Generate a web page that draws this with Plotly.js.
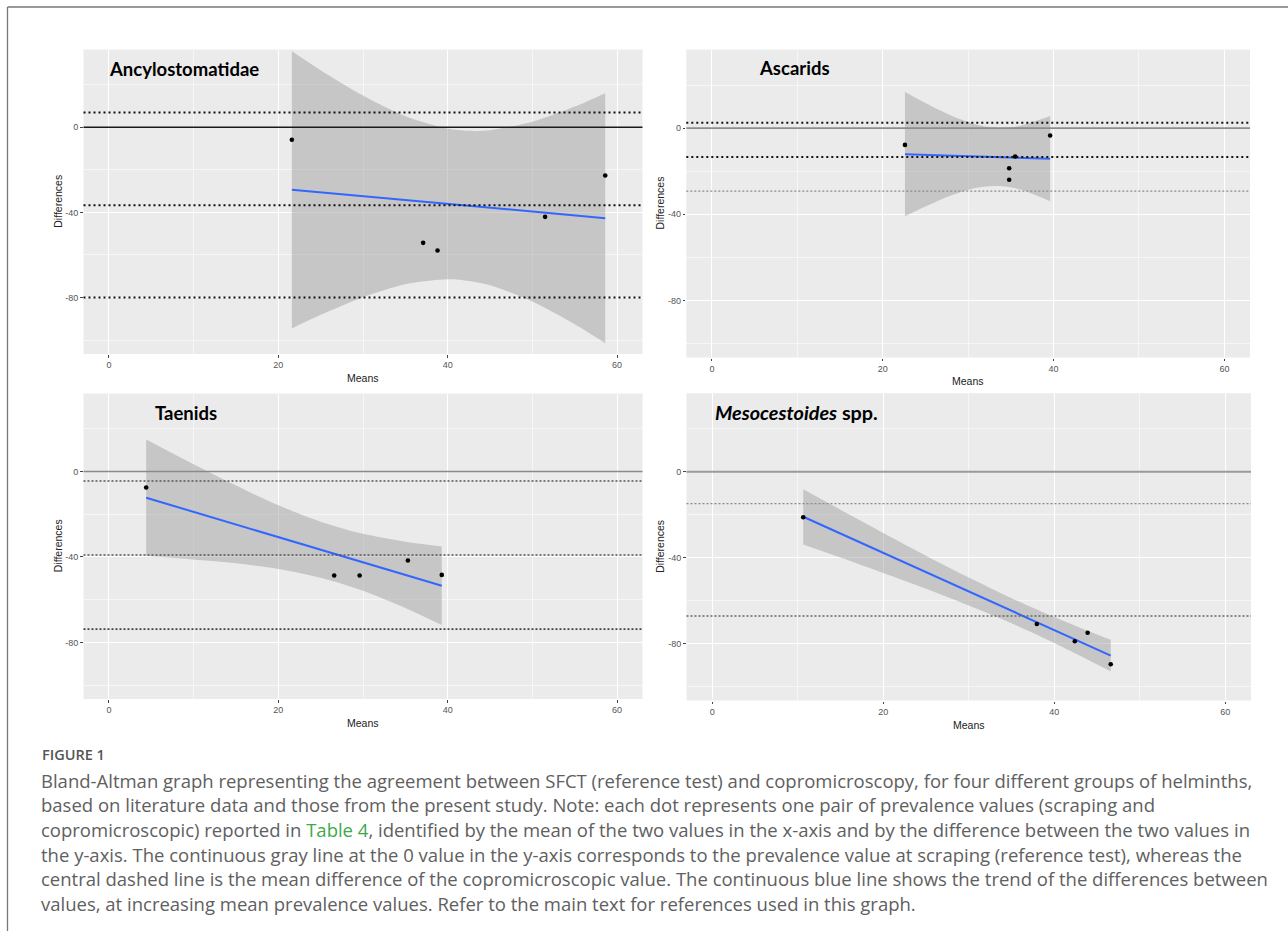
<!DOCTYPE html>
<html>
<head>
<meta charset="utf-8">
<script src="https://cdn.plot.ly/plotly-3.0.1.min.js"></script>
<style>
html,body{margin:0;padding:0;background:#fff;}
#chart{width:1288px;height:931px;}
</style>
</head>
<body>
<div id="chart"></div>
<script>
// ---------- data ----------
var panelTitles = ['Ancylostomatidae', 'Ascarids', 'Taenids', '<i>Mesocestoides</i> spp.'];
var xAxisTitle = 'Means';
var yAxisTitle = 'Differences';

var xTickVals = [0, 20, 40, 60];
var xTickText = ['0', '20', '40', '60'];
var xMinorVals = [10, 30, 50];
var yTickVals = [0, -40, -80];
var yTickText = ['0', '-40', '-80'];
var yMinorVals = [20, -20, -60, -100];

// Ancylostomatidae
var ancMeans = [21.6, 37.1, 38.8, 51.5, 58.6];
var ancDiffs = [-5.9, -54.3, -57.9, -42.1, -22.7];
var ancRef = 0;
var ancLimits = [6.9, -36.6, -80.0];
var ancTrendX = [21.6, 58.6];
var ancTrendY = [-29.4, -42.7];
var ancBandX = [21.6, 25, 30, 35, 40, 42.5, 45, 50, 55, 58.6];
var ancBandLo = [-94.5, -88.1, -79.8, -73.7, -71.4, -72.2, -74.2, -81.8, -92.5, -101.4];
var ancBandHi = [35.7, 26.8, 14.9, 5.2, -0.6, -1.7, -1.4, 2.6, 9.7, 16.0];

// Ascarids
var ascMeans = [22.6, 34.8, 34.8, 35.5, 39.6];
var ascDiffs = [-7.8, -18.6, -24.0, -13.2, -3.4];
var ascRef = 0;
var ascLimits = [2.5, -13.4, -29.3];
var ascTrendX = [22.6, 39.6];
var ascTrendY = [-12.1, -14.2];
var ascBandX = [22.6, 25, 28, 31, 33.5, 36, 39.6];
var ascBandLo = [-40.9, -36.4, -31.3, -27.7, -26.9, -28.4, -33.9];
var ascBandHi = [16.8, 11.7, 5.9, 1.6, 0.1, 1.0, 5.6];

// Taenids
var taeMeans = [4.4, 26.6, 29.6, 35.3, 39.3];
var taeDiffs = [-7.5, -48.7, -48.7, -41.7, -48.4];
var taeRef = 0;
var taeLimits = [-4.4, -39.1, -73.8];
var taeTrendX = [4.4, 39.3];
var taeTrendY = [-12.3, -53.5];
var taeBandX = [4.4, 10, 15, 20, 25, 30, 35, 39.3];
var taeBandLo = [-39.6, -41.2, -43.0, -45.6, -49.7, -55.8, -63.9, -71.9];
var taeBandHi = [15.0, 3.4, -6.6, -15.8, -23.5, -29.2, -32.9, -35.1];

// Mesocestoides spp.
var mesMeans = [10.65, 37.96, 42.4, 43.9, 46.6];
var mesDiffs = [-21.2, -70.9, -78.9, -75.0, -89.6];
var mesRef = 0;
var mesLimits = [-14.9, -67.2];
var mesTrendX = [10.65, 46.6];
var mesTrendY = [-21.0, -85.6];
var mesBandX = [10.65, 15, 20, 25, 30, 35, 40, 43, 46.6];
var mesBandLo = [-33.9, -40.0, -47.2, -54.5, -62.3, -70.6, -79.8, -85.7, -93.0];
var mesBandHi = [-8.2, -17.7, -28.5, -39.1, -49.3, -58.9, -67.7, -72.6, -78.2];

var figureLabel = 'FIGURE 1';
var captionLines = [
  'Bland-Altman graph representing the agreement between SFCT (reference test) and copromicroscopy, for four different groups of helminths,',
  'based on literature data and those from the present study. Note: each dot represents one pair of prevalence values (scraping and',
  'copromicroscopic) reported in <span style="color:#3BAA4A">Table 4</span>, identified by the mean of the two values in the x-axis and by the difference between the two values in',
  'the y-axis. The continuous gray line at the 0 value in the y-axis corresponds to the prevalence value at scraping (reference test), whereas the',
  'central dashed line is the mean difference of the copromicroscopic value. The continuous blue line shows the trend of the differences between',
  'values, at increasing mean prevalence values. Refer to the main text for references used in this graph.'
];

// ---------- layout geometry (pixels) ----------
var W = 1288, H = 931;
function px(x){ return x / W; }
function py(y){ return 1 - y / H; }

var panels = [
  {means: ancMeans, diffs: ancDiffs, ref: ancRef, limits: ancLimits, tx: ancTrendX, ty: ancTrendY,
   bx: ancBandX, blo: ancBandLo, bhi: ancBandHi,
   box: [83.5, 642.5, 49.5, 354], titleX: 106.5, titleY: 69, titleSize: 18.5, meansY: 378, diffX: 58,
   refStyle: {color: '#1a1a1a', width: 1.4},
   limStyles: [{color:'#111', width:2, dash:'2px,3px'}, {color:'#111', width:2, dash:'2px,3px'}, {color:'#111', width:2, dash:'2px,3px'}]},
  {means: ascMeans, diffs: ascDiffs, ref: ascRef, limits: ascLimits, tx: ascTrendX, ty: ascTrendY,
   bx: ascBandX, blo: ascBandLo, bhi: ascBandHi,
   box: [686.3, 1250, 49.5, 357.5], titleX: 756.5, titleY: 68, titleSize: 18.5, meansY: 381, diffX: 660,
   refStyle: {color: '#8c8c8c', width: 1.6},
   limStyles: [{color:'#111', width:2, dash:'2px,3px'}, {color:'#111', width:2, dash:'2px,3px'}, {color:'#8a8a8a', width:1.3, dash:'2px,2px'}]},
  {means: taeMeans, diffs: taeDiffs, ref: taeRef, limits: taeLimits, tx: taeTrendX, ty: taeTrendY,
   bx: taeBandX, blo: taeBandLo, bhi: taeBandHi,
   box: [83.5, 642.5, 393.5, 699], titleX: 152.5, titleY: 413, titleSize: 18.5, meansY: 723, diffX: 58,
   refStyle: {color: '#8a8a8a', width: 1.5},
   limStyles: [{color:'#555', width:1.5, dash:'2px,2px'}, {color:'#555', width:1.5, dash:'2px,2px'}, {color:'#444', width:1.6, dash:'2px,2px'}]},
  {means: mesMeans, diffs: mesDiffs, ref: mesRef, limits: mesLimits, tx: mesTrendX, ty: mesTrendY,
   bx: mesBandX, blo: mesBandLo, bhi: mesBandHi,
   box: [686.5, 1251, 393.2, 700.5], titleX: 713, titleY: 412, titleSize: 19.8, meansY: 725, diffX: 660,
   refStyle: {color: '#9a9a9a', width: 2},
   limStyles: [{color:'#8a8a8a', width:1.3, dash:'2px,2px'}, {color:'#666', width:1.4, dash:'2px,2px'}]}
];

var data = [];
var layout = {
  width: W, height: H,
  margin: {l:0, r:0, t:0, b:0},
  paper_bgcolor: '#ffffff',
  plot_bgcolor: '#EBEBEB',
  showlegend: false,
  hovermode: false,
  annotations: [],
  shapes: []
};

panels.forEach(function(p, i){
  var n = i === 0 ? '' : String(i + 1);
  var xa = 'x' + n, ya = 'y' + n;
  var tickFont = {family: 'Liberation Sans, Arial, sans-serif', size: 9, color: '#555'};
  layout['xaxis' + n] = {
    domain: [px(p.box[0]), px(p.box[1])], anchor: ya,
    range: [-3, 63], tickmode: 'array', tickvals: xTickVals, ticktext: xTickText,
    showgrid: true, gridcolor: '#ffffff', gridwidth: 1.1, zeroline: false, showline: false,
    ticks: 'outside', ticklen: 2.5, tickwidth: 1, tickcolor: '#444', tickfont: tickFont,
    minor: {tickmode: 'array', tickvals: xMinorVals, showgrid: true, gridcolor: '#ffffff', gridwidth: 0.55, ticks: ''},
    fixedrange: true
  };
  layout['yaxis' + n] = {
    domain: [py(p.box[3]), py(p.box[2])], anchor: xa,
    range: [-106.5, 36.5], tickmode: 'array', tickvals: yTickVals, ticktext: yTickText,
    showgrid: true, gridcolor: '#ffffff', gridwidth: 1.1, zeroline: false, showline: false,
    ticks: 'outside', ticklen: 2.5, tickwidth: 1, tickcolor: '#444', tickfont: tickFont,
    minor: {tickmode: 'array', tickvals: yMinorVals, showgrid: true, gridcolor: '#ffffff', gridwidth: 0.55, ticks: ''},
    fixedrange: true
  };

  // confidence band
  data.push({x: p.bx, y: p.blo, xaxis: xa, yaxis: ya, mode: 'lines',
             line: {width: 0, shape: 'spline', smoothing: 0.8}, hoverinfo: 'skip'});
  data.push({x: p.bx, y: p.bhi, xaxis: xa, yaxis: ya, mode: 'lines', fill: 'tonexty',
             fillcolor: 'rgba(153,153,153,0.45)', line: {width: 0, shape: 'spline', smoothing: 0.8}, hoverinfo: 'skip'});
  // trend line
  data.push({x: p.tx, y: p.ty, xaxis: xa, yaxis: ya, mode: 'lines',
             line: {color: '#3366FF', width: 2}});
  // points
  data.push({x: p.means, y: p.diffs, xaxis: xa, yaxis: ya, mode: 'markers',
             marker: {color: '#000000', size: 4.6}});

  // reference line at 0 and limits of agreement
  layout.shapes.push({type: 'line', xref: xa + ' domain', yref: ya, x0: 0, x1: 1,
                      y0: p.ref, y1: p.ref, line: p.refStyle, layer: 'above'});
  p.limits.forEach(function(v, k){
    layout.shapes.push({type: 'line', xref: xa + ' domain', yref: ya, x0: 0, x1: 1,
                        y0: v, y1: v, line: p.limStyles[k], layer: 'above'});
  });

  // panel title
  layout.annotations.push({text: panelTitles[i], xref: 'paper', yref: 'paper',
    x: px(p.titleX), y: py(p.titleY), xanchor: 'left', yanchor: 'middle', showarrow: false,
    font: {family: 'Lato, sans-serif', size: p.titleSize, color: '#000', weight: 700}});
  // axis titles
  layout.annotations.push({text: xAxisTitle, xref: 'paper', yref: 'paper',
    x: px((p.box[0] + p.box[1]) / 2), y: py(p.meansY), xanchor: 'center', yanchor: 'middle', showarrow: false,
    font: {family: 'Liberation Sans, Arial, sans-serif', size: 10.5, color: '#222'}});
  layout.annotations.push({text: yAxisTitle, xref: 'paper', yref: 'paper', textangle: -90,
    x: px(p.diffX), y: py((p.box[2] + p.box[3]) / 2), xanchor: 'center', yanchor: 'middle', showarrow: false,
    font: {family: 'Liberation Sans, Arial, sans-serif', size: 10.5, color: '#222'}});
});

// figure frame
layout.shapes.push({type: 'line', xref: 'paper', yref: 'paper', x0: px(7.5), x1: px(7.5), y0: 0, y1: py(7),
                    line: {color: '#777', width: 1.3}});
layout.shapes.push({type: 'line', xref: 'paper', yref: 'paper', x0: px(7.5), x1: 1, y0: py(7), y1: py(7),
                    line: {color: '#777', width: 1.3}});

// caption
layout.annotations.push({text: figureLabel, xref: 'paper', yref: 'paper', x: px(40), y: py(754),
  xanchor: 'left', yanchor: 'middle', showarrow: false,
  font: {family: 'Open Sans, sans-serif', size: 14.5, color: '#555', weight: 600}});
captionLines.forEach(function(t, k){
  layout.annotations.push({text: t, xref: 'paper', yref: 'paper', x: px(38.5), y: py(780 + 24.7 * k),
    xanchor: 'left', yanchor: 'middle', showarrow: false, align: 'left',
    font: {family: 'Open Sans, sans-serif', size: 18.5, color: '#606060'}});
});

Plotly.newPlot('chart', data, layout, {staticPlot: true, displayModeBar: false});
</script>
</body>
</html>
